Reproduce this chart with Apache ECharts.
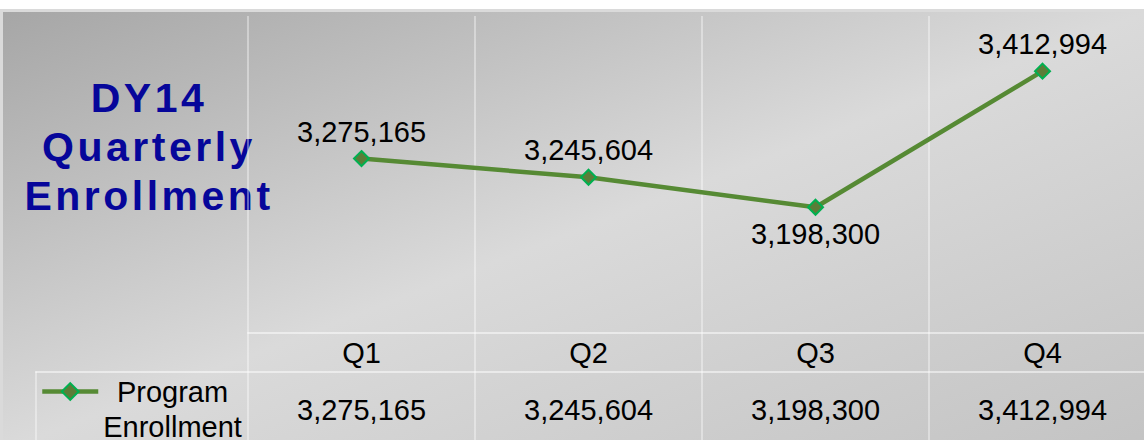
<!DOCTYPE html>
<html>
<head>
<meta charset="utf-8">
<script src="https://cdn.jsdelivr.net/npm/echarts@6/dist/echarts.min.js"></script>
<style>
  html, body { margin: 0; padding: 0; background: #fff; }
  #chart { width: 1144px; height: 440px; }
</style>
</head>
<body>
<div id="chart"></div>
<script>
// Quarterly enrollment figures
const quarters = ['Q1', 'Q2', 'Q3', 'Q4'];
const enrollment = [3275165, 3245604, 3198300, 3412994];
const seriesName = 'Program Enrollment';
const titleLines = ['DY14', 'Quarterly', 'Enrollment'];

const FONT = "'Liberation Sans', Arial, Helvetica, sans-serif";
const fmt = v => String(v).replace(/\B(?=(\d{3})+(?!\d))/g, ',');
const ruleColor = 'rgba(255,255,255,0.5)';
const splitRule = { show: true, interval: 0, lineStyle: { color: ruleColor, width: 1.5 } };
const tableWidth = 908; // four equal columns, the last running past the right edge

// a value label goes under its point when the line dips there
const isDip = i =>
  (i === 0 || enrollment[i] < enrollment[i - 1]) &&
  (i === enrollment.length - 1 || enrollment[i] < enrollment[i + 1]);

const chart = echarts.init(document.getElementById('chart'), null, { renderer: 'svg' });

const option = {
  animation: false,
  backgroundColor: '#fff',
  textStyle: { fontFamily: FONT },
  graphic: [
    {
      type: 'rect', z: -10, silent: true,
      shape: { x: 1.5, y: 10.5, width: 1150, height: 440 },
      style: {
        fill: new echarts.graphic.LinearGradient(0, 0, 1, 1, [
          { offset: 0, color: '#a6a6a6' },
          { offset: 0.5, color: '#dadada' },
          { offset: 1, color: '#c3c3c3' }
        ]),
        stroke: '#dadada', lineWidth: 3
      }
    },
    {
      type: 'text', silent: true, x: 149, y: 73,
      style: {
        text: titleLines.join('\n'),
        align: 'center', verticalAlign: 'top',
        font: 'bold 41px ' + FONT, lineHeight: 49,
        fill: '#06069a'
      }
    }
  ],
  legend: {
    data: [seriesName],
    left: 40, top: 339, padding: 0,
    itemWidth: 56, itemHeight: 21,
    selectedMode: false,
    lineStyle: { width: 4.5, color: '#568a34' },
    formatter: name => name.split(' ').map(w => '{c|' + w + '}').join('\n'),
    textStyle: {
      fontSize: 29, lineHeight: 35, color: '#000', padding: [35, 0, 0, 0],
      rich: { c: { align: 'center', fontSize: 29, lineHeight: 35, color: '#000', fontFamily: FONT } }
    }
  },
  grid: [
    { left: 248, width: tableWidth, top: 16, height: 317, outerBoundsMode: 'none' },
    { left: 248, width: tableWidth, top: 333, height: 130, outerBoundsMode: 'none' },
    { left: 36, width: tableWidth + 212, top: 372, height: 90, outerBoundsMode: 'none' }
  ],
  xAxis: [
    {
      gridIndex: 0, type: 'category', data: quarters, boundaryGap: true,
      axisLine: { show: true, onZero: false, lineStyle: { color: ruleColor, width: 2 } },
      axisTick: { show: false },
      splitLine: splitRule,
      axisLabel: { interval: 0, fontSize: 29, lineHeight: 29, color: '#000', margin: 5, fontFamily: FONT }
    },
    {
      gridIndex: 1, type: 'category', data: quarters, boundaryGap: true, position: 'top',
      axisLine: { show: false }, axisTick: { show: false },
      splitLine: splitRule,
      axisLabel: {
        interval: 0, inside: true, margin: 62, fontSize: 29, lineHeight: 29, color: '#000', fontFamily: FONT,
        formatter: (v, i) => fmt(enrollment[i])
      }
    },
    {
      gridIndex: 2, type: 'value', position: 'top',
      axisLine: { show: true, onZero: false, lineStyle: { color: ruleColor, width: 2 } },
      axisTick: { show: false }, axisLabel: { show: false }, splitLine: { show: false }
    }
  ],
  yAxis: [
    { gridIndex: 0, type: 'value', min: 3000000, max: 3500000, show: false },
    { gridIndex: 1, type: 'value', show: false },
    {
      gridIndex: 2, type: 'value', position: 'left',
      axisLine: { show: true, onZero: false, lineStyle: { color: ruleColor, width: 1.5 } },
      axisTick: { show: false }, axisLabel: { show: false }, splitLine: { show: false }
    }
  ],
  series: [
    {
      type: 'line', name: seriesName, xAxisIndex: 0, yAxisIndex: 0, z: 3,
      data: enrollment.map((v, i) => ({ value: v, label: { position: isDip(i) ? 'bottom' : 'top' } })),
      symbol: 'diamond', symbolSize: 15,
      lineStyle: { color: '#568a34', width: 4.5 },
      itemStyle: { color: '#5b7d38', borderColor: '#00b050', borderWidth: 2 },
      label: { show: true, formatter: p => fmt(p.value), fontSize: 29, color: '#000', distance: 4, fontFamily: FONT },
      emphasis: { disabled: true }
    }
  ]
};

chart.setOption(option);

// widen the tracking of the bold title lines only
function spaceTitle() {
  document.querySelectorAll('#chart text').forEach(t => {
    const st = (t.getAttribute('style') || '') + ' ' + (t.getAttribute('font-weight') || '');
    if (titleLines.includes(t.textContent.trim()) && /bold/.test(st)) {
      t.setAttribute('letter-spacing', '3.5px');
    }
  });
}
spaceTitle();
chart.on('rendered', spaceTitle);
chart.on('finished', spaceTitle);
</script>
</body>
</html>
